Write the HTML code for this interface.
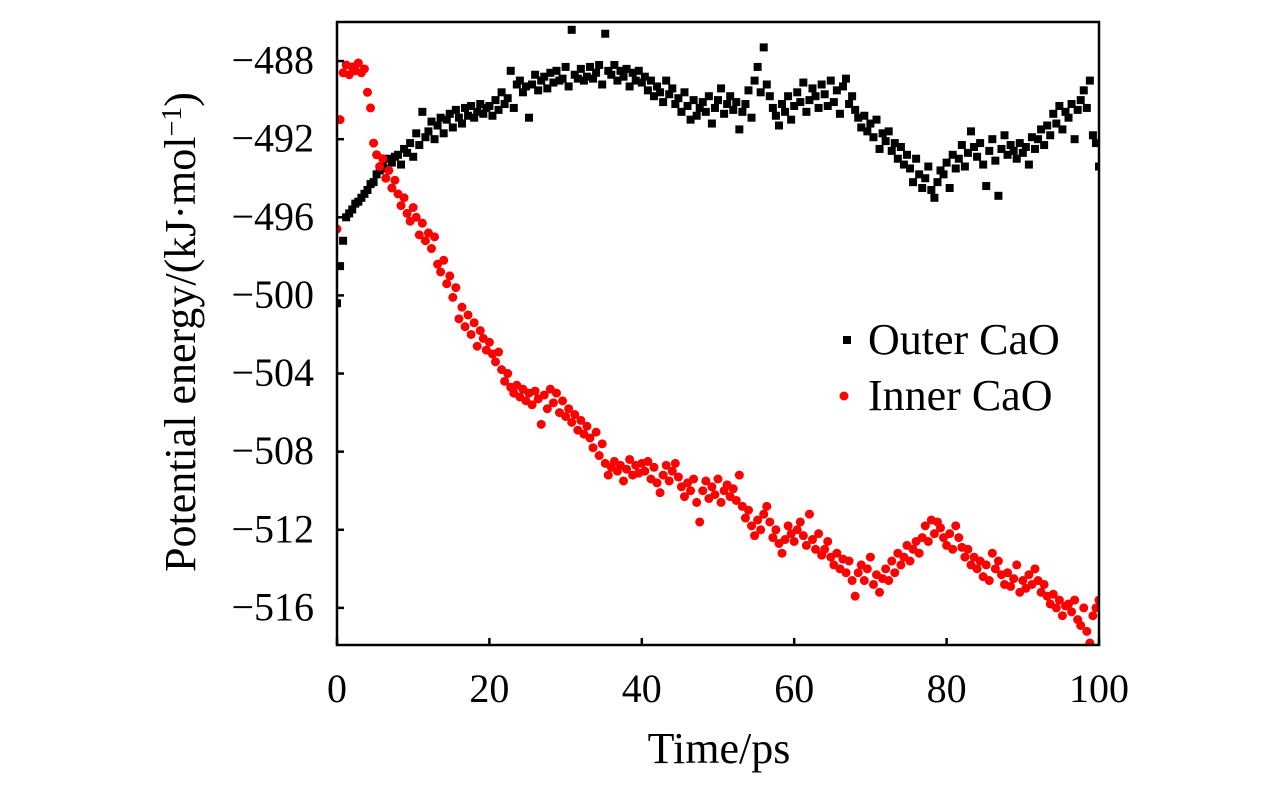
<!DOCTYPE html>
<html><head><meta charset="utf-8"><style>
html,body{margin:0;padding:0;background:#fff;}
svg{display:block;font-family:"Liberation Serif",serif;}
</style></head><body>
<svg id="chart" width="1276" height="787" viewBox="0 0 1276 787"></svg>
<script>
const xTicks=[0,20,40,60,80,100];
const yTicks=[-488,-492,-496,-500,-504,-508,-512,-516];
const timeStep=0.4;
const outerCaO=[
-500.4,-498.5,-497.2,-496.0,-495.8,-495.6,-495.3,-495.2,-495.0,-494.8,
-494.6,-494.3,-494.2,-493.8,-493.6,-493.4,-493.5,-493.0,-493.2,-492.9,
-492.8,-493.3,-492.5,-492.7,-492.2,-492.9,-491.7,-492.3,-490.6,-491.9,
-491.6,-491.1,-492.0,-491.3,-490.9,-491.7,-491.0,-490.7,-491.4,-490.5,
-490.9,-491.2,-490.4,-490.8,-490.3,-490.9,-490.6,-490.2,-490.7,-490.4,
-490.3,-490.8,-490.0,-490.5,-489.6,-490.2,-489.9,-488.5,-490.4,-489.2,
-489.0,-489.6,-489.3,-490.9,-489.2,-488.7,-489.5,-489.0,-488.8,-489.4,
-488.6,-489.1,-488.5,-489.0,-488.9,-488.3,-489.3,-486.4,-488.7,-488.9,
-488.4,-489.0,-488.8,-488.3,-488.9,-488.6,-488.2,-489.2,-486.6,-488.5,
-488.7,-488.2,-489.0,-488.5,-488.8,-488.4,-489.3,-488.6,-489.0,-488.5,
-489.1,-488.8,-489.5,-489.0,-489.8,-489.3,-489.6,-490.1,-489.0,-489.7,
-489.4,-490.2,-489.9,-490.6,-489.6,-490.3,-491.0,-490.0,-490.8,-490.4,
-490.1,-490.6,-489.8,-491.2,-490.4,-490.0,-489.4,-490.7,-490.2,-489.8,
-490.5,-490.1,-491.5,-490.6,-490.2,-489.5,-490.9,-489.0,-488.3,-489.6,
-487.3,-489.2,-489.8,-490.4,-490.8,-491.3,-490.2,-490.6,-489.8,-491.0,
-490.3,-489.6,-490.1,-489.1,-490.6,-490.0,-489.4,-489.8,-490.4,-489.2,
-489.7,-490.3,-489.0,-490.1,-489.5,-490.7,-489.3,-488.9,-490.2,-489.8,
-490.5,-490.9,-491.4,-490.8,-491.6,-491.2,-491.9,-491.0,-492.5,-491.7,
-492.1,-491.6,-492.6,-492.2,-493.0,-492.4,-493.3,-492.8,-493.5,-494.2,
-493.0,-493.8,-494.5,-494.0,-493.4,-494.6,-495.0,-494.2,-493.6,-493.8,
-493.2,-494.5,-492.8,-493.5,-493.0,-492.3,-493.4,-492.7,-491.6,-492.4,
-492.9,-492.2,-493.3,-494.4,-492.6,-492.0,-493.1,-494.9,-492.5,-491.8,
-492.8,-492.3,-492.6,-493.0,-492.2,-492.7,-492.4,-493.3,-491.9,-492.5,
-492.0,-491.5,-492.3,-491.3,-491.8,-490.7,-491.2,-490.3,-491.5,-490.6,
-490.9,-490.2,-492.0,-490.5,-490.0,-489.5,-490.4,-489.0,-491.8,-492.2,
-493.4];
const innerCaO=[
-496.6,-491.0,-488.6,-488.2,-488.7,-488.3,-488.5,-488.1,-488.6,-488.4,
-489.6,-490.4,-492.2,-492.8,-493.4,-493.0,-494.0,-493.6,-494.5,-494.1,
-494.8,-495.4,-495.0,-495.8,-496.2,-495.5,-496.0,-496.9,-496.3,-497.2,
-496.8,-497.6,-497.0,-498.4,-498.8,-498.2,-499.4,-499.0,-500.1,-499.6,
-501.2,-500.6,-501.6,-501.0,-502.0,-501.4,-502.6,-501.8,-502.2,-502.8,
-502.4,-503.0,-503.4,-502.9,-503.8,-504.4,-504.0,-504.7,-505.0,-504.6,
-505.2,-504.8,-505.4,-505.0,-505.6,-504.9,-505.3,-506.6,-505.1,-505.8,
-504.8,-505.5,-505.0,-506.0,-505.4,-506.2,-505.8,-506.5,-506.1,-506.9,
-506.4,-507.1,-506.7,-507.3,-507.8,-507.0,-508.2,-507.6,-508.6,-509.2,
-508.8,-508.5,-509.0,-508.7,-509.5,-508.9,-508.4,-509.2,-508.7,-509.1,
-508.6,-509.0,-508.5,-509.4,-508.8,-509.6,-510.1,-509.2,-508.7,-509.5,
-509.0,-508.6,-509.3,-509.8,-510.3,-509.6,-510.0,-509.4,-510.6,-511.6,
-510.0,-509.5,-510.4,-509.8,-510.2,-509.4,-510.6,-510.0,-509.7,-510.3,
-509.9,-510.5,-509.2,-510.8,-511.4,-511.0,-511.8,-512.3,-511.5,-512.0,
-511.2,-510.8,-511.6,-512.4,-512.0,-512.7,-513.2,-512.5,-511.8,-512.2,
-512.6,-512.0,-511.6,-512.3,-512.8,-511.2,-512.5,-513.0,-512.2,-513.3,
-513.0,-512.6,-513.4,-513.8,-513.2,-514.0,-513.5,-514.2,-513.6,-514.6,
-515.4,-514.2,-513.8,-514.6,-514.0,-513.4,-514.8,-514.3,-515.2,-514.5,
-514.0,-514.6,-513.6,-514.2,-513.2,-513.8,-513.4,-512.8,-513.6,-513.0,
-512.6,-513.2,-512.4,-511.8,-512.6,-511.5,-512.2,-511.6,-511.9,-512.4,
-512.8,-512.2,-513.0,-511.8,-512.4,-512.9,-513.4,-513.0,-513.8,-513.4,
-514.0,-513.6,-514.4,-513.8,-514.6,-513.2,-514.0,-513.6,-514.3,-514.8,
-514.2,-514.9,-514.5,-513.8,-515.2,-514.6,-515.0,-514.3,-514.8,-514.0,
-514.6,-515.2,-514.8,-515.4,-515.8,-515.3,-516.0,-515.6,-516.4,-515.9,
-515.8,-516.2,-515.6,-516.6,-516.9,-516.0,-517.2,-517.8,-516.4,-516.0,
-515.6];
const seriesNames=["Outer CaO","Inner CaO"];

const NS="http://www.w3.org/2000/svg";
const svg=document.getElementById('chart');
const L=337,R=1099,T=22,B=645,XMIN=0,XMAX=100,YMIN=-517.9,YMAX=-486;
const xs=v=>L+(v-XMIN)/(XMAX-XMIN)*(R-L);
const ys=v=>B-(v-YMIN)/(YMAX-YMIN)*(B-T);
function mk(tag,attrs,parent){const e=document.createElementNS(NS,tag);for(const k in attrs)e.setAttribute(k,attrs[k]);(parent||svg).appendChild(e);return e;}

const clip=mk('clipPath',{id:'pc'});mk('rect',{x:L,y:T,width:R-L,height:B-T},clip);
const gO=mk('g',{'clip-path':'url(#pc)'});


outerCaO.forEach((v,i)=>{const s=mk('rect',{x:xs(i*timeStep)-4,y:ys(v)-4,width:8,height:8,fill:'#000'},gO);

});
const gI=mk('g',{'clip-path':'url(#pc)'});


innerCaO.forEach((v,i)=>{const c=mk('circle',{cx:xs(i*timeStep),cy:ys(v),r:4.5,fill:'#f00'},gI);

});

const frame=mk('rect',{x:L,y:T,width:R-L,height:B-T,fill:'none',stroke:'#000','stroke-width':2.5});



yTicks.forEach(v=>{const y=ys(v);
mk('line',{x1:L,x2:L+7,y1:y,y2:y,stroke:'#000','stroke-width':2.5});
const t=mk('text',{x:314,y:y+12.5,'text-anchor':'end','font-size':40,fill:'#000'});t.textContent=String(v).replace('-','\u2212');

});
xTicks.forEach(v=>{const x=xs(v);
mk('line',{x1:x,x2:x,y1:B,y2:B-7,stroke:'#000','stroke-width':2.5});
const t=mk('text',{x:x,y:702,'text-anchor':'middle','font-size':40,fill:'#000'});t.textContent=v;

});

const xt=mk('text',{x:719,y:763,'text-anchor':'middle','font-size':44,fill:'#000'});xt.textContent='Time/ps';


const yt=mk('text',{x:0,y:0,'text-anchor':'middle','font-size':44,fill:'#000',transform:'translate(195,332) rotate(-90)'});
yt.innerHTML='Potential energy/(kJ·mol<tspan dy="-14" font-size="28">\u22121</tspan><tspan dy="14">)</tspan>';



const lg=mk('g',{});


mk('rect',{x:843,y:336,width:8,height:8,fill:'#000'},lg);
const l1=mk('text',{x:868,y:354,'font-size':44,fill:'#000'},lg);l1.textContent=seriesNames[0];


mk('circle',{cx:844,cy:396,r:4.5,fill:'#f00'},lg);
const l2=mk('text',{x:868,y:410,'font-size':44,fill:'#000'},lg);l2.textContent=seriesNames[1];


</script>
</body></html>
